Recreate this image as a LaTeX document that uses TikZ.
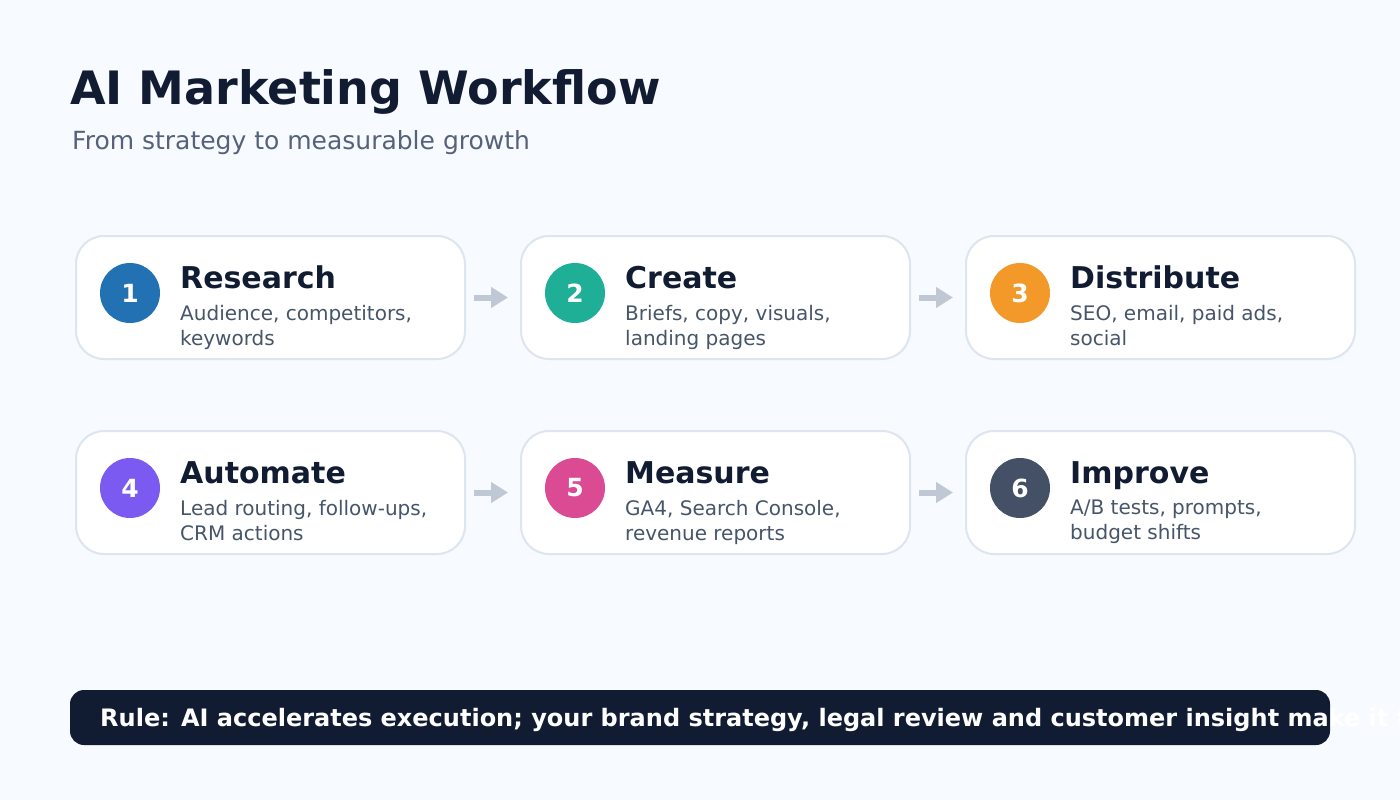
\documentclass[tikz,border=0pt]{standalone}
\usepackage{fontspec}
\setmainfont{DejaVu Sans}
\usetikzlibrary{arrows.meta}
\definecolor{bg}{HTML}{F7FAFF}
\definecolor{navy}{HTML}{111C33}
\definecolor{subtle}{HTML}{56627A}
\definecolor{desc}{HTML}{475569}
\definecolor{cardborder}{HTML}{DDE5F0}
\definecolor{arrowc}{HTML}{BFC8D4}
\definecolor{cA}{HTML}{2271B3}
\definecolor{cB}{HTML}{1FAE96}
\definecolor{cC}{HTML}{F2992A}
\definecolor{cD}{HTML}{7A5AF0}
\definecolor{cE}{HTML}{DA4B93}
\definecolor{cF}{HTML}{435065}
\tikzset{
  card/.style={draw=cardborder, line width=2pt, fill=white, rounded corners=28pt,
    minimum width=389pt, minimum height=123pt, inner sep=0pt},
  numc/.style={circle, minimum size=60pt, inner sep=0pt, text=white,
    font=\fontsize{25}{28}\selectfont\bfseries},
  steptitle/.style={anchor=base west, inner sep=0pt, text=navy,
    font=\fontsize{30}{34}\selectfont\bfseries},
  stepdesc/.style={anchor=north west, inner sep=0pt, text=desc, align=left,
    font=\fontsize{20}{25}\selectfont},
  flow/.style={draw=arrowc, line width=6pt, -{Triangle[length=17pt,width=20pt]},
    shorten <=8pt, shorten >=12pt},
}
\begin{document}
\begin{tikzpicture}[x=1pt,y=-1pt]
\useasboundingbox (0,0) rectangle (1400,800);
\clip (0,0) rectangle (1400,800);
\fill[bg] (0,0) rectangle (1400,800);

\node[anchor=base west, inner sep=0pt, text=navy, font=\fontsize{46}{52}\selectfont\bfseries] (title) at (70,104) {AI Marketing Workflow};
\node[anchor=base west, inner sep=0pt, text=subtle, font=\fontsize{25}{29}\selectfont] (subtitle) at (72,149) {From strategy to measurable growth};

% cards row 1
\node[card] (k1) at (270.5,297.5) {};
\node[card] (k2) at (715.5,297.5) {};
\node[card] (k3) at (1160.5,297.5) {};
% cards row 2
\node[card] (k4) at (270.5,492.5) {};
\node[card] (k5) at (715.5,492.5) {};
\node[card] (k6) at (1160.5,492.5) {};

\node[numc, fill=cA] (n1) at (130,293) {1};
\node[numc, fill=cB] (n2) at (575,293) {2};
\node[numc, fill=cC] (n3) at (1020,293) {3};
\node[numc, fill=cD] (n4) at (130,488) {4};
\node[numc, fill=cE] (n5) at (575,488) {5};
\node[numc, fill=cF] (n6) at (1020,488) {6};

\node[steptitle] (t1) at (180,288) {Research};
\node[steptitle] (t2) at (625,288) {Create};
\node[steptitle] (t3) at (1070,288) {Distribute};
\node[steptitle] (t4) at (180,483) {Automate};
\node[steptitle] (t5) at (625,483) {Measure};
\node[steptitle] (t6) at (1070,483) {Improve};

\node[stepdesc] (d1) at (180,305) {Audience, competitors,\\keywords};
\node[stepdesc] (d2) at (625,305) {Briefs, copy, visuals,\\landing pages};
\node[stepdesc] (d3) at (1070,305) {SEO, email, paid ads,\\social};
\node[stepdesc] (d4) at (180,500) {Lead routing, follow-ups,\\CRM actions};
\node[stepdesc] (d5) at (625,500) {GA4, Search Console,\\revenue reports};
\node[stepdesc] (d6) at (1070,500) {A/B tests, prompts,\\budget shifts};

\draw[flow] (k1.east) -- (k2.west);
\draw[flow] (k2.east) -- (k3.west);
\draw[flow] (k4.east) -- (k5.west);
\draw[flow] (k5.east) -- (k6.west);

\node[fill=navy, rounded corners=14pt, minimum width=1260pt, minimum height=55pt, inner sep=0pt] (banner) at (700,717.5) {};
\node[anchor=base west, inner sep=0pt, text=white, font=\fontsize{24}{28}\selectfont\bfseries] (rule) at (100,726) {Rule: AI accelerates execution; your brand strategy, legal review and customer insight make it trustworthy.};
\end{tikzpicture}
\end{document}
